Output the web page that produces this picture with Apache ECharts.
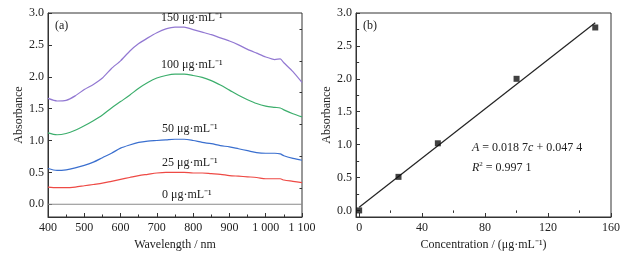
<!DOCTYPE html>
<html>
<head>
<meta charset="utf-8">
<script src="https://cdn.jsdelivr.net/npm/echarts@6/dist/echarts.min.js"></script>
<style>
  html, body { margin: 0; padding: 0; background: #fff; }
  #chart { width: 640px; height: 253px; }
</style>
</head>
<body>
<div id="chart"></div>
<script>
// (a) absorption spectra
const wavelengths = [400, 425, 450, 475, 500, 525, 550, 575, 600, 625, 650, 675, 700, 725, 750, 775, 800, 825, 850, 875, 900, 925, 950, 975, 1000, 1025, 1040, 1050, 1075, 1100]
const abs150 = [1.66, 1.62, 1.63, 1.70, 1.80, 1.88, 1.98, 2.13, 2.25, 2.40, 2.52, 2.61, 2.69, 2.75, 2.78, 2.78, 2.74, 2.70, 2.66, 2.61, 2.56, 2.50, 2.43, 2.37, 2.31, 2.27, 2.28, 2.22, 2.08, 1.91]
const abs100 = [1.12, 1.09, 1.11, 1.16, 1.23, 1.31, 1.40, 1.51, 1.61, 1.71, 1.82, 1.91, 1.98, 2.02, 2.04, 2.04, 2.02, 1.99, 1.94, 1.87, 1.79, 1.71, 1.64, 1.58, 1.54, 1.52, 1.51, 1.48, 1.42, 1.37]
const abs50 = [0.56, 0.53, 0.54, 0.57, 0.61, 0.66, 0.73, 0.80, 0.88, 0.93, 0.97, 0.99, 1.00, 1.01, 1.02, 1.02, 1.00, 0.97, 0.95, 0.92, 0.90, 0.87, 0.84, 0.81, 0.80, 0.80, 0.79, 0.76, 0.72, 0.69]
const abs25 = [0.27, 0.26, 0.26, 0.27, 0.29, 0.31, 0.33, 0.36, 0.39, 0.42, 0.45, 0.47, 0.49, 0.50, 0.50, 0.50, 0.49, 0.49, 0.48, 0.47, 0.45, 0.44, 0.43, 0.42, 0.40, 0.40, 0.40, 0.38, 0.36, 0.34]
const abs0 = [0, 0, 0, 0, 0, 0, 0, 0, 0, 0, 0, 0, 0, 0, 0, 0, 0, 0, 0, 0, 0, 0, 0, 0, 0, 0, 0, 0, 0, 0]

// (b) calibration
const concentrations = [0, 25, 50, 100, 150]
const absorbances = [0.0, 0.51, 1.02, 2.0, 2.78]
const fitC = [0, 150]
const fitA = [0.047, 2.852]

const yTicks = [0, 0.5, 1.0, 1.5, 2.0, 2.5, 3.0]
const yMinorTicks = [0.25, 0.75, 1.25, 1.75, 2.25, 2.75]
const cTicks = [0, 40, 80, 120, 160]
const cMinorTicks = [20, 60, 100, 140]

const FONT = '"Liberation Serif", "Times New Roman", serif'
const AXIS_COLOR = '#333'

const zip = (xs, ys) => xs.map((x, i) => [x, ys[i]])

const chart = echarts.init(document.getElementById('chart'))

const baseAxis = {
  axisLine: { show: true, onZero: false, lineStyle: { color: AXIS_COLOR, width: 1 } },
  axisTick: { show: true, inside: true, length: 4, lineStyle: { color: AXIS_COLOR } },
  axisLabel: { color: '#222', fontFamily: FONT, fontSize: 12 },
  splitLine: { show: false }
}

const minorAxis = (extra) => Object.assign({
  axisLine: { show: false },
  axisLabel: { show: false },
  splitLine: { show: false }
}, extra)

const curveLabel = (text) => text + ' μg·mL⁻¹'

chart.setOption({
  animation: false,
  grid: [
    { left: 48, right: 338, top: 13, bottom: 36, show: true, borderColor: AXIS_COLOR, borderWidth: 1, outerBoundsMode: 'none' },
    { left: 356, right: 29, top: 13, bottom: 36, show: true, borderColor: AXIS_COLOR, borderWidth: 1, outerBoundsMode: 'none' }
  ],
  xAxis: [
    Object.assign({}, baseAxis, {
      gridIndex: 0, type: 'value', min: 400, max: 1100, interval: 100,
      minorTick: { show: true, splitNumber: 2, length: 2.5, lineStyle: { color: AXIS_COLOR } },
      axisLabel: Object.assign({}, baseAxis.axisLabel, {
        margin: 5,
        formatter: v => v >= 1000 ? String(v).replace(/^(\d)(\d{3})$/, '$1 $2') : String(v)
      }),
      name: 'Wavelength / nm', nameLocation: 'middle', nameGap: 20,
      nameTextStyle: { fontFamily: FONT, fontSize: 12, color: '#222' }
    }),
    Object.assign({}, baseAxis, {
      gridIndex: 1, type: 'value', min: -2, max: 160,
      axisTick: Object.assign({}, baseAxis.axisTick, { customValues: cTicks }),
      axisLabel: Object.assign({}, baseAxis.axisLabel, { margin: 5, customValues: cTicks }),
      name: 'Concentration / (μg·mL⁻¹)', nameLocation: 'middle', nameGap: 21,
      nameTextStyle: { fontFamily: FONT, fontSize: 12, color: '#222' }
    }),
    minorAxis({ gridIndex: 1, type: 'value', min: -2, max: 160,
      axisTick: { show: true, inside: true, length: 2.5, customValues: cMinorTicks, lineStyle: { color: AXIS_COLOR } } })
  ],
  yAxis: [
    Object.assign({}, baseAxis, {
      gridIndex: 0, type: 'value', min: -0.2, max: 3.0,
      axisTick: Object.assign({}, baseAxis.axisTick, { customValues: yTicks }),
      axisLabel: Object.assign({}, baseAxis.axisLabel, { margin: 4, customValues: yTicks, formatter: v => v.toFixed(1) }),
      name: 'Absorbance', nameLocation: 'middle', nameGap: 23, nameRotate: 90,
      nameTextStyle: { fontFamily: FONT, fontSize: 12, color: '#222' }
    }),
    minorAxis({ gridIndex: 0, type: 'value', min: -0.2, max: 3.0,
      axisTick: { show: true, inside: true, length: 2.5, customValues: yMinorTicks, lineStyle: { color: AXIS_COLOR } } }),
    Object.assign({}, baseAxis, {
      gridIndex: 1, type: 'value', min: -0.1, max: 3.0,
      axisTick: Object.assign({}, baseAxis.axisTick, { customValues: yTicks }),
      axisLabel: Object.assign({}, baseAxis.axisLabel, { margin: 4, customValues: yTicks, formatter: v => v.toFixed(1) }),
      name: 'Absorbance', nameLocation: 'middle', nameGap: 22, nameRotate: 90,
      nameTextStyle: { fontFamily: FONT, fontSize: 12, color: '#222' }
    }),
    minorAxis({ gridIndex: 1, type: 'value', min: -0.1, max: 3.0,
      axisTick: { show: true, inside: true, length: 2.5, customValues: yMinorTicks, lineStyle: { color: AXIS_COLOR } } })
  ],
  series: [
    { type: 'line', xAxisIndex: 0, yAxisIndex: 0, data: zip(wavelengths, abs0), showSymbol: false, lineStyle: { color: '#8a8a8a', width: 1.2 } },
    { type: 'line', xAxisIndex: 0, yAxisIndex: 0, data: zip(wavelengths, abs25), showSymbol: false, smooth: 0.3, lineStyle: { color: '#ee4a45', width: 1.2 } },
    { type: 'line', xAxisIndex: 0, yAxisIndex: 0, data: zip(wavelengths, abs50), showSymbol: false, smooth: 0.3, lineStyle: { color: '#3a6fcf', width: 1.2 } },
    { type: 'line', xAxisIndex: 0, yAxisIndex: 0, data: zip(wavelengths, abs100), showSymbol: false, smooth: 0.3, lineStyle: { color: '#3cae6c', width: 1.2 } },
    { type: 'line', xAxisIndex: 0, yAxisIndex: 0, data: zip(wavelengths, abs150), showSymbol: false, smooth: 0.2, lineStyle: { color: '#9278d2', width: 1.2 } },
    { type: 'line', xAxisIndex: 1, yAxisIndex: 2, data: zip(fitC, fitA), showSymbol: false, lineStyle: { color: '#222', width: 1.2 } },
    { type: 'scatter', xAxisIndex: 1, yAxisIndex: 2, data: zip(concentrations, absorbances), symbol: 'rect', symbolSize: 6, itemStyle: { color: '#111' }, z: 5 }
  ],
  graphic: [
    { type: 'text', left: 55, top: 20, style: { text: '(a)', font: '12px ' + FONT, fill: '#222' } },
    { type: 'text', left: 363, top: 20, style: { text: '(b)', font: '12px ' + FONT, fill: '#222' } },
    { type: 'text', left: 161, top: 12, style: { text: curveLabel('150'), font: '12px ' + FONT, fill: '#222' } },
    { type: 'text', left: 161, top: 59, style: { text: curveLabel('100'), font: '12px ' + FONT, fill: '#222' } },
    { type: 'text', left: 162, top: 123, style: { text: curveLabel('50'), font: '12px ' + FONT, fill: '#222' } },
    { type: 'text', left: 162, top: 157, style: { text: curveLabel('25'), font: '12px ' + FONT, fill: '#222' } },
    { type: 'text', left: 162, top: 189, style: { text: curveLabel('0'), font: '12px ' + FONT, fill: '#222' } },
    { type: 'text', left: 472, top: 142, style: {
      text: '{i|A} = 0.018 7{i|c} + 0.047 4',
      font: '12px ' + FONT, fill: '#222',
      rich: { i: { fontStyle: 'italic', fontFamily: FONT, fontSize: 12 } }
    } },
    { type: 'text', left: 472, top: 161, style: {
      text: '{i|R}{s|2} = 0.997 1',
      font: '12px ' + FONT, fill: '#222',
      rich: { i: { fontStyle: 'italic', fontFamily: FONT, fontSize: 12 }, s: { fontSize: 7, fontFamily: FONT, verticalAlign: 'top', padding: [0, 0, 6, 0] } }
    } }
  ]
})
</script>
</body>
</html>
